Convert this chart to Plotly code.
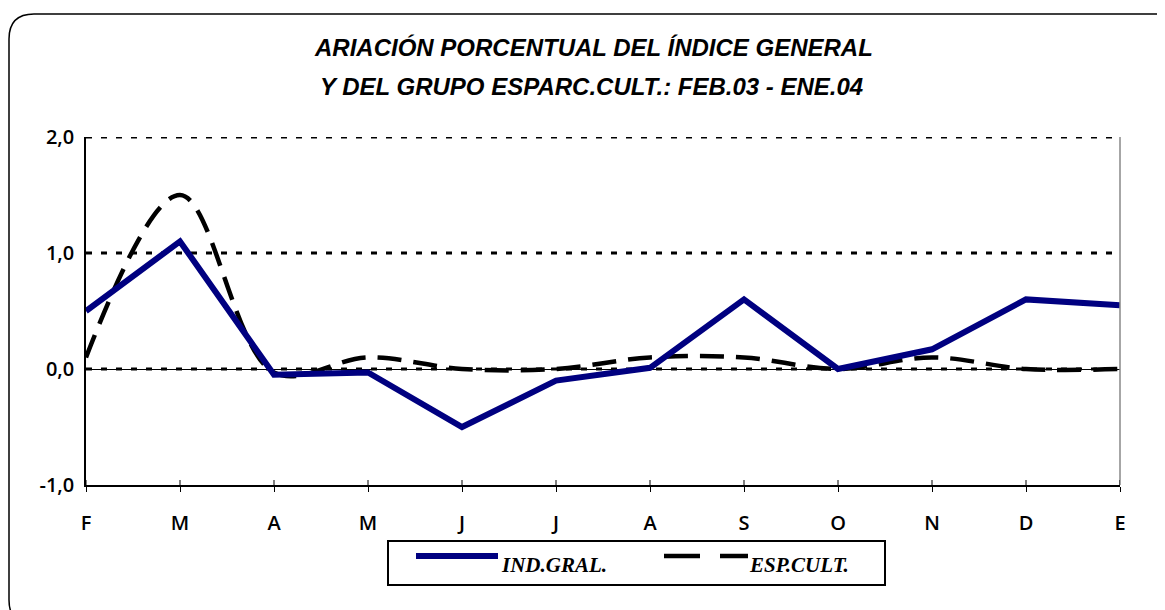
import plotly.graph_objects as go

months = ["F", "M", "A", "M", "J", "J", "A", "S", "O", "N", "D", "E"]
ind_gral = [0.50, 1.10, -0.05, -0.03, -0.50, -0.10, 0.01, 0.60, 0.00, 0.17, 0.60, 0.55]
esp_cult = [0.10, 1.50, -0.03, 0.10, 0.00, 0.00, 0.10, 0.10, 0.00, 0.10, 0.00, 0.00]
y_ticks = [-1.0, 0.0, 1.0, 2.0]
y_tick_labels = ["-1,0", "0,0", "1,0", "2,0"]
grid_levels = [0.0, 1.0, 2.0]
title_lines = ["ARIACIÓN PORCENTUAL DEL ÍNDICE GENERAL",
               "Y DEL GRUPO ESPARC.CULT.: FEB.03 - ENE.04"]
series_names = ["IND.GRAL.", "ESP.CULT."]

W, H = 1165, 610
OFF = 8  # page body margin offset
# plot area in screenshot pixels
SL, SR, ST, SB = 86, 1120, 137, 485
L, R, T, B = SL - OFF, SR - OFF, ST - OFF, SB - OFF


def px(x):
    """screenshot x pixel -> paper"""
    return (x - OFF - L) / (R - L)


def py(y):
    """screenshot y pixel -> paper"""
    return (B - (y - OFF)) / (B - T)


xs = list(range(len(months)))
navy = "#000080"

fig = go.Figure()
fig.add_trace(go.Scatter(x=xs, y=esp_cult, mode="lines", name=series_names[1],
                         line=dict(color="black", width=4.5, dash="24px,12px",
                                   shape="spline", smoothing=1),
                         showlegend=False, hoverinfo="skip"))
fig.add_trace(go.Scatter(x=xs, y=ind_gral, mode="lines", name=series_names[0],
                         line=dict(color=navy, width=6),
                         showlegend=False, hoverinfo="skip"))

tick_font = dict(family="Open Sans", size=20, color="black", weight=600)

fig.update_layout(
    width=W, height=H,
    margin=dict(l=L, r=W - R, t=T, b=H - B),
    paper_bgcolor="white", plot_bgcolor="white",
    showlegend=False,
    xaxis=dict(range=[0, len(months) - 1], tickvals=xs, ticktext=months,
               showgrid=False, zeroline=False, showline=True,
               linecolor="black", linewidth=1.5,
               ticks="outside", ticklen=5, tickwidth=1, tickcolor="black",
               ticklabelstandoff=14, tickfont=tick_font),
    yaxis=dict(range=[-1, 2], tickvals=y_ticks, ticktext=y_tick_labels,
               showgrid=False,
               zeroline=True, zerolinecolor="black", zerolinewidth=1,
               showline=True, linecolor="black", linewidth=1.5,
               ticks="", ticklabelstandoff=6, tickfont=tick_font),
)

shapes = []
# dashed horizontal gridlines
for g in grid_levels:
    shapes.append(dict(type="line", xref="paper", yref="y", x0=0, x1=1,
                       y0=g, y1=g, layer="below",
                       line=dict(color="black", width=3, dash="6px,9px")))
# gray right edge of plot area
shapes.append(dict(type="line", xref="paper", yref="paper",
                   x0=1, x1=1, y0=0, y1=1, line=dict(color="#888888", width=1.5)))
# small upward tick marks on x axis
for i in xs:
    shapes.append(dict(type="line", xref="x", yref="paper", x0=i, x1=i,
                       y0=0, y1=py(SB - 5), line=dict(color="black", width=1)))

# rounded outer frame
x0, y0, x1, y1, r = 9, 14, 1185, 625, 25
path = (f"M {px(x0)},{py(y0 + r)} "
        f"Q {px(x0)},{py(y0)} {px(x0 + r)},{py(y0)} "
        f"L {px(x1 - r)},{py(y0)} "
        f"Q {px(x1)},{py(y0)} {px(x1)},{py(y0 + r)} "
        f"L {px(x1)},{py(y1 - r)} "
        f"Q {px(x1)},{py(y1)} {px(x1 - r)},{py(y1)} "
        f"L {px(x0 + r)},{py(y1)} "
        f"Q {px(x0)},{py(y1)} {px(x0)},{py(y1 - r)} Z")
shapes.append(dict(type="path", xref="paper", yref="paper", path=path,
                   line=dict(color="black", width=1.5)))

# legend box
shapes.append(dict(type="rect", xref="paper", yref="paper",
                   x0=px(388), x1=px(885), y0=py(541), y1=py(585),
                   line=dict(color="black", width=2), fillcolor="white"))
# legend samples
shapes.append(dict(type="line", xref="paper", yref="paper",
                   x0=px(416), x1=px(498), y0=py(556), y1=py(556),
                   line=dict(color=navy, width=6)))
shapes.append(dict(type="line", xref="paper", yref="paper",
                   x0=px(664), x1=px(748), y0=py(556), y1=py(556),
                   line=dict(color="black", width=4.5, dash="36px,20px")))
fig.update_layout(shapes=shapes)

annotations = [
    dict(text=f"<b><i>{title_lines[0]}</i></b>", x=px(593), y=py(47),
         xref="paper", yref="paper", showarrow=False,
         xanchor="center", yanchor="middle",
         font=dict(family="Liberation Sans", size=24, color="black")),
    dict(text=f"<b><i>{title_lines[1]}</i></b>", x=px(591), y=py(86),
         xref="paper", yref="paper", showarrow=False,
         xanchor="center", yanchor="middle",
         font=dict(family="Liberation Sans", size=24, color="black")),
    dict(text=f"<b><i>{series_names[0]}</i></b>", x=px(499), y=py(565),
         xref="paper", yref="paper", showarrow=False,
         xanchor="left", yanchor="middle",
         font=dict(family="Liberation Serif", size=21, color="black")),
    dict(text=f"<b><i>{series_names[1]}</i></b>", x=px(747), y=py(565),
         xref="paper", yref="paper", showarrow=False,
         xanchor="left", yanchor="middle",
         font=dict(family="Liberation Serif", size=21, color="black")),
]
fig.update_layout(annotations=annotations)

fig.write_html("out.html")
